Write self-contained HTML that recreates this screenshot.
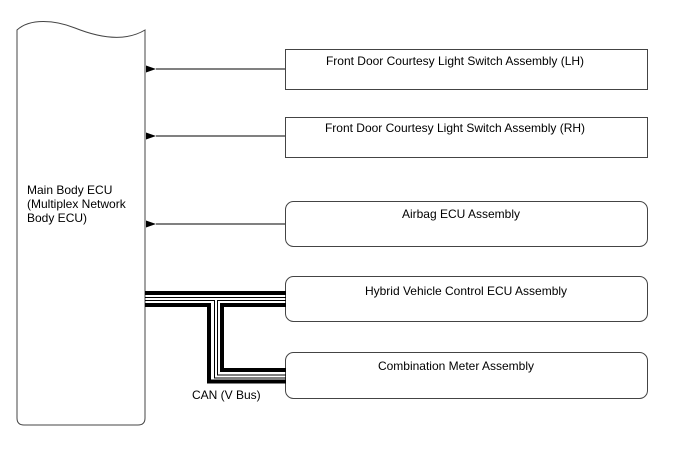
<!DOCTYPE html>
<html><head><style>
html,body{margin:0;padding:0;background:#fff;}
svg{display:block;}
text{font-family:"Liberation Sans",Arial,sans-serif;font-size:12px;fill:#000;}
</style></head><body>
<svg width="688" height="463" viewBox="0 0 688 463" xmlns="http://www.w3.org/2000/svg">
<defs><marker id="a" markerWidth="10" markerHeight="7" refX="0" refY="3.5" orient="auto" markerUnits="userSpaceOnUse"><path d="M10,0 L0,3.5 L10,7 z" fill="#000"/></marker></defs>
<path d="M17,30 C30,18 55,20 75,28 C100,38 125,42 145,30 L145,418 Q145,425 138,425 L24,425 Q17,425 17,418 Z" fill="#fff" stroke="#444" stroke-width="1"/>
<text x="27" y="194">Main Body ECU</text>
<text x="27" y="208">(Multiplex Network</text>
<text x="27" y="222">Body ECU)</text>
<rect x="285.5" y="49.5" width="362" height="40" fill="#fff" stroke="#444"/>
<text x="455" y="65" text-anchor="middle">Front Door Courtesy Light Switch Assembly (LH)</text>
<rect x="285.5" y="117.5" width="362" height="40" fill="#fff" stroke="#444"/>
<text x="455" y="132" text-anchor="middle">Front Door Courtesy Light Switch Assembly (RH)</text>
<rect x="285.5" y="201.5" width="362" height="45" rx="8" fill="#fff" stroke="#444"/>
<text x="461" y="218" text-anchor="middle">Airbag ECU Assembly</text>
<rect x="285.5" y="276.5" width="362" height="45" rx="8" fill="#fff" stroke="#444"/>
<text x="466" y="295" text-anchor="middle">Hybrid Vehicle Control ECU Assembly</text>
<rect x="285.5" y="352.5" width="362" height="46" rx="8" fill="#fff" stroke="#444"/>
<text x="456" y="370" text-anchor="middle">Combination Meter Assembly</text>
<g stroke="#000" stroke-width="1">
<line x1="285" y1="69" x2="156" y2="69" marker-end="url(#a)"/>
<line x1="285" y1="136" x2="156" y2="136" marker-end="url(#a)"/>
<line x1="285" y1="224" x2="156" y2="224" marker-end="url(#a)"/>
</g>
<g fill="none" stroke="#000">
<line x1="145" y1="293" x2="286" y2="293" stroke-width="4"/>
<line x1="145" y1="297.5" x2="286" y2="297.5" stroke-width="1"/>
<polyline points="145,300.5 214.5,300.5 214.5,378 286,378" stroke-width="1"/>
<polyline points="286,300.5 217.5,300.5 217.5,375 286,375" stroke-width="1"/>
<polyline points="145,305 209,305 209,381.5 286,381.5" stroke-width="4"/>
<polyline points="286,305 222,305 222,370 286,370" stroke-width="4"/>
</g>
<text x="192" y="399">CAN (V Bus)</text>
</svg>
</body></html>
